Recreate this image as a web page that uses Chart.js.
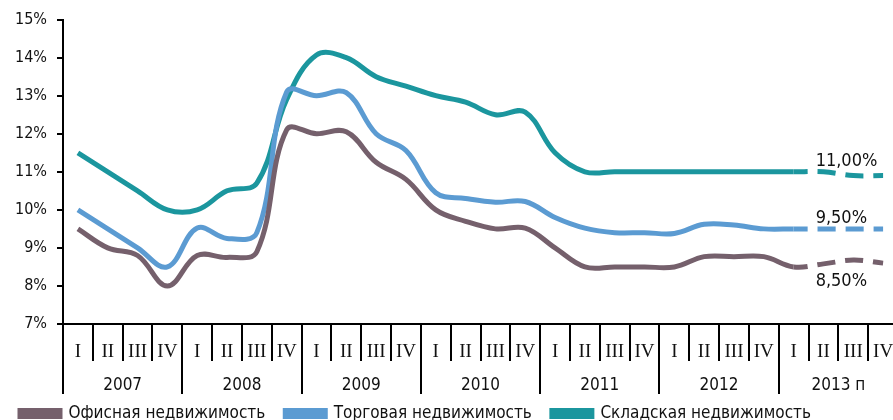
<!DOCTYPE html>
<html>
<head>
<meta charset="utf-8">
<script src="https://cdn.jsdelivr.net/npm/chart.js@4"></script>
<style>
  html, body { margin: 0; padding: 0; background: #fff; overflow: hidden; }
</style>
</head>
<body>
<canvas id="chart" width="898" height="420"></canvas>
<script>
// Кварталы и годы
const quarters = ['I', 'II', 'III', 'IV', 'I', 'II', 'III', 'IV', 'I', 'II', 'III', 'IV', 'I', 'II', 'III', 'IV',
  'I', 'II', 'III', 'IV', 'I', 'II', 'III', 'IV', 'I', 'II', 'III', 'IV'];
const years = ['2007', '2008', '2009', '2010', '2011', '2012', '2013 п'];
const yTicks = [7, 8, 9, 10, 11, 12, 13, 14, 15];

// Ставки капитализации, %
const office = [9.5, 9.0, 8.8, 8.0, 8.8, 8.75, 8.9, 12.1, 12.0, 12.05, 11.25, 10.8, 10.0, 9.7, 9.5, 9.52,
  9.0, 8.5, 8.5, 8.5, 8.5, 8.77, 8.77, 8.77, 8.5, 8.58, 8.68, 8.6];
const retail = [10.0, 9.5, 9.0, 8.5, 9.52, 9.25, 9.4, 13.1, 13.0, 13.08, 12.0, 11.56, 10.45, 10.3, 10.2, 10.22,
  9.8, 9.52, 9.4, 9.4, 9.38, 9.62, 9.6, 9.5, 9.5, 9.5, 9.5, 9.5];
const warehouse = [11.5, 11.0, 10.5, 10.0, 10.0, 10.5, 10.7, 12.9, 14.07, 14.0, 13.5, 13.25, 13.0, 12.83, 12.5, 12.57,
  11.5, 11.0, 11.0, 11.0, 11.0, 11.0, 11.0, 11.0, 11.0, 11.0, 10.9, 10.9];

const seriesNames = ['Офисная недвижимость', 'Торговая недвижимость', 'Складская недвижимость'];
const forecastFrom = 24; // 2013 I - дальше прогноз (пунктир)

const NARROW = "'Liberation Sans Narrow', 'DejaVu Sans Condensed', sans-serif";
const SERIF = "'Liberation Serif', 'DejaVu Serif', serif";

const fmt = v => v.toFixed(2).replace('.', ',') + '%';

// Подписи значений на 2013 I
const endLabels = {
  id: 'endLabels',
  afterDatasetsDraw(chart) {
    const { ctx, scales: { x, y } } = chart;
    const px = x.getPixelForValue(forecastFrom) + 22;
    const shifts = [14, -11, -10];
    ctx.save();
    ctx.font = '18px ' + NARROW;
    ctx.fillStyle = '#111';
    ctx.textBaseline = 'middle';
    chart.data.datasets.forEach((ds, i) => {
      const v = ds.data[forecastFrom];
      ctx.fillText(fmt(v), px, y.getPixelForValue(v) + shifts[i]);
    });
    ctx.restore();
  }
};

// легенду чуть выше, ближе к подписям годов
const legendUp = {
  id: 'legendUp',
  afterLayout(chart) {
    chart.legend.top -= 9;
    chart.legend.bottom -= 9;
  }
};

const dashed = ctx => ctx.p0DataIndex >= forecastFrom ? [18, 10] : undefined;
const dashOffset = ctx => ctx.p0DataIndex >= forecastFrom ? 4 : 0;

const makeSet = (label, data, color) => ({
  label,
  data,
  borderColor: color,
  backgroundColor: color,
  borderWidth: 5,
  pointRadius: 0,
  tension: 0.38,
  fill: false,
  segment: { borderDash: dashed, borderDashOffset: dashOffset }
});

new Chart(document.getElementById('chart'), {
  type: 'line',
  data: {
    labels: quarters,
    datasets: [
      makeSet(seriesNames[0], office, '#75606C'),
      makeSet(seriesNames[1], retail, '#5B9BD2'),
      makeSet(seriesNames[2], warehouse, '#1B969E')
    ]
  },
  options: {
    responsive: false,
    animation: false,
    layout: { padding: { top: 16, right: 0, bottom: -21, left: 0 } },
    plugins: {
      tooltip: { enabled: false },
      legend: {
        position: 'bottom',
        align: 'start',
        labels: {
          boxWidth: 40,
          boxHeight: 6,
          padding: 20,
          color: '#111',
          font: { size: 17, family: NARROW }
        }
      }
    },
    scales: {
      y: {
        min: 7,
        max: 15,
        afterBuildTicks: s => { s.ticks = yTicks.map(v => ({ value: v })); },
        afterFit: s => { s.width = 63; },
        ticks: {
          callback: v => v + '%',
          color: '#111',
          padding: 10,
          font: { size: 16, family: NARROW }
        },
        grid: { drawOnChartArea: false, tickLength: 6, color: '#000', lineWidth: 2 },
        border: { color: '#000', width: 2 }
      },
      x: {
        offset: true,
        weight: 0,
        afterFit: s => { s.height = 37; },
        ticks: {
          autoSkip: false,
          maxRotation: 0,
          padding: -20,
          color: '#111',
          font: { size: 19, family: SERIF }
        },
        grid: { offset: true, drawOnChartArea: false, tickLength: 37, color: '#000', lineWidth: 2 },
        border: { color: '#000', width: 2 }
      },
      x2: {
        type: 'category',
        position: 'bottom',
        labels: years,
        offset: true,
        weight: 1,
        afterFit: s => { s.height = 33; },
        ticks: {
          autoSkip: false,
          maxRotation: 0,
          padding: -19,
          color: '#111',
          font: { size: 17, family: NARROW }
        },
        grid: { offset: true, drawOnChartArea: false, tickLength: 33, color: '#000', lineWidth: 2 },
        border: { display: false }
      }
    }
  },
  plugins: [endLabels, legendUp]
});
</script>
</body>
</html>
